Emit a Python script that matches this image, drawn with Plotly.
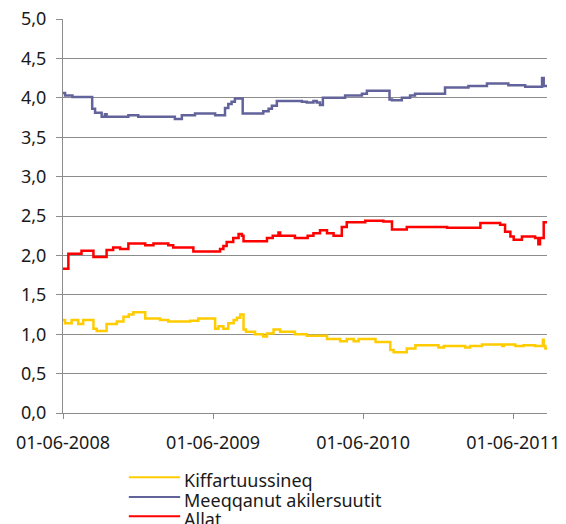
import pandas as pd
import plotly.graph_objects as go

start = pd.Timestamp("2008-06-01")

# days after 01-06-2008 where the value changes, and the value from that day on
kiff_days = [0, 5, 21, 37, 49, 74, 82, 106, 131, 147, 160, 171, 200, 236, 256, 309, 329,
             370, 378, 390, 402, 415, 423, 431, 439, 445, 467, 487, 496, 512, 528, 564,
             593, 642, 674, 690, 707, 719, 760, 796, 804, 836, 857, 913, 926, 978, 990,
             1019, 1068, 1072, 1100, 1120, 1148, 1167, 1169, 1173, 1177]
kiff_vals = [1.18, 1.14, 1.18, 1.13, 1.18, 1.07, 1.04, 1.13, 1.16, 1.22, 1.25, 1.28, 1.20, 1.18, 1.16, 1.17, 1.20,
             1.07, 1.10, 1.07, 1.14, 1.18, 1.21, 1.25, 1.06, 1.03, 1.00, 0.97, 1.01, 1.06, 1.03, 1.00,
             0.98, 0.94, 0.91, 0.94, 0.91, 0.94, 0.90, 0.80, 0.77, 0.82, 0.86, 0.83, 0.85, 0.83, 0.85,
             0.87, 0.85, 0.87, 0.85, 0.86, 0.85, 0.93, 0.85, 0.82, 0.82]

meeq_days = [0, 5, 23, 71, 78, 94, 102, 106, 159, 183, 272, 289, 321, 370, 394, 402, 410, 418,
             437, 487, 500, 508, 520, 581, 593, 609, 617, 625, 632, 686, 727, 739, 794, 800, 824,
             844, 856, 929, 986, 1031, 1083, 1124, 1165, 1169, 1177]
meeq_vals = [4.06, 4.03, 4.01, 3.86, 3.81, 3.76, 3.79, 3.76, 3.78, 3.76, 3.73, 3.78, 3.80, 3.78, 3.87, 3.92, 3.95, 3.99,
             3.80, 3.83, 3.86, 3.90, 3.96, 3.95, 3.94, 3.96, 3.94, 3.91, 4.00, 4.03, 4.05, 4.09, 3.98, 3.97, 4.00,
             4.03, 4.05, 4.13, 4.15, 4.18, 4.16, 4.14, 4.25, 4.15, 4.14]

allat_days = [0, 13, 45, 74, 106, 122, 139, 159, 200, 220, 256, 268, 317, 382, 390, 398, 414,
              427, 435, 439, 496, 510, 524, 528, 564, 595, 609, 625, 642, 658, 678, 690, 735,
              779, 800, 836, 934, 1015, 1063, 1075, 1088, 1096, 1116, 1148, 1156, 1160, 1169, 1177]
allat_vals = [1.83, 2.02, 2.06, 1.98, 2.07, 2.10, 2.08, 2.15, 2.13, 2.15, 2.13, 2.10, 2.05, 2.08, 2.12, 2.17, 2.22,
              2.27, 2.25, 2.18, 2.22, 2.25, 2.29, 2.25, 2.22, 2.25, 2.28, 2.32, 2.28, 2.25, 2.36, 2.42, 2.44,
              2.43, 2.33, 2.36, 2.35, 2.41, 2.39, 2.30, 2.24, 2.20, 2.24, 2.22, 2.14, 2.22, 2.42, 2.41]

series_names = ["Kiffartuussineq", "Meeqqanut akilersuutit", "Allat"]
series_colors = ["#FFCC00", "#63639C", "#FF0000"]

tick_dates = ["2008-06-01", "2009-06-01", "2010-06-01", "2011-06-01"]
tick_labels = ["01-06-2008", "01-06-2009", "01-06-2010", "01-06-2011"]

FONT = "Noto Sans"
GRID = "#8C8C8C"

fig = go.Figure()
for name, color, days, vals in zip(series_names, series_colors,
                                   [kiff_days, meeq_days, allat_days],
                                   [kiff_vals, meeq_vals, allat_vals]):
    dates = start + pd.to_timedelta(days, unit="D")
    fig.add_trace(go.Scatter(x=dates, y=vals, name=name, mode="lines",
                             line=dict(color=color, width=2.5, shape="hv"),
                             showlegend=False))

# legend drawn by hand so the rows sit as tight as in the original
leg_y = [-0.163, -0.213, -0.262]
for name, color, ly in zip(series_names, series_colors, leg_y):
    fig.add_shape(type="line", xref="paper", yref="paper",
                  x0=0.136, x1=0.242, y0=ly, y1=ly,
                  line=dict(color=color, width=2))
    fig.add_annotation(xref="paper", yref="paper", x=0.248, y=ly - 0.008,
                       text=name, showarrow=False, xanchor="left", yanchor="middle",
                       borderpad=0,
                       font=dict(family=FONT, size=18, color="#1A1A1A"))

fig.update_xaxes(
    range=["2008-06-01", "2011-08-22"],
    tickvals=tick_dates, ticktext=tick_labels,
    showgrid=False, showline=True, linecolor=GRID, linewidth=1,
    ticks="outside", ticklen=5, tickcolor=GRID,
    ticklabelstandoff=8, automargin=False,
    tickfont=dict(family=FONT, size=18, color="#1A1A1A"),
)
fig.update_yaxes(
    range=[0, 5], dtick=0.5, tickformat=".1f",
    showgrid=True, gridcolor=GRID, gridwidth=1,
    showline=True, linecolor=GRID, linewidth=1,
    ticks="outside", ticklen=6, tickcolor=GRID,
    ticklabelstandoff=6, zeroline=False, automargin=False,
    tickfont=dict(family=FONT, size=18, color="#1A1A1A"),
)
fig.update_layout(
    width=566, height=524,
    margin=dict(l=63, r=19, t=19, b=111),
    separators=", ",
    plot_bgcolor="white", paper_bgcolor="white",
)

fig.write_html("out.html", config={"displayModeBar": False},
               post_script="document.body.style.margin='0px';")
